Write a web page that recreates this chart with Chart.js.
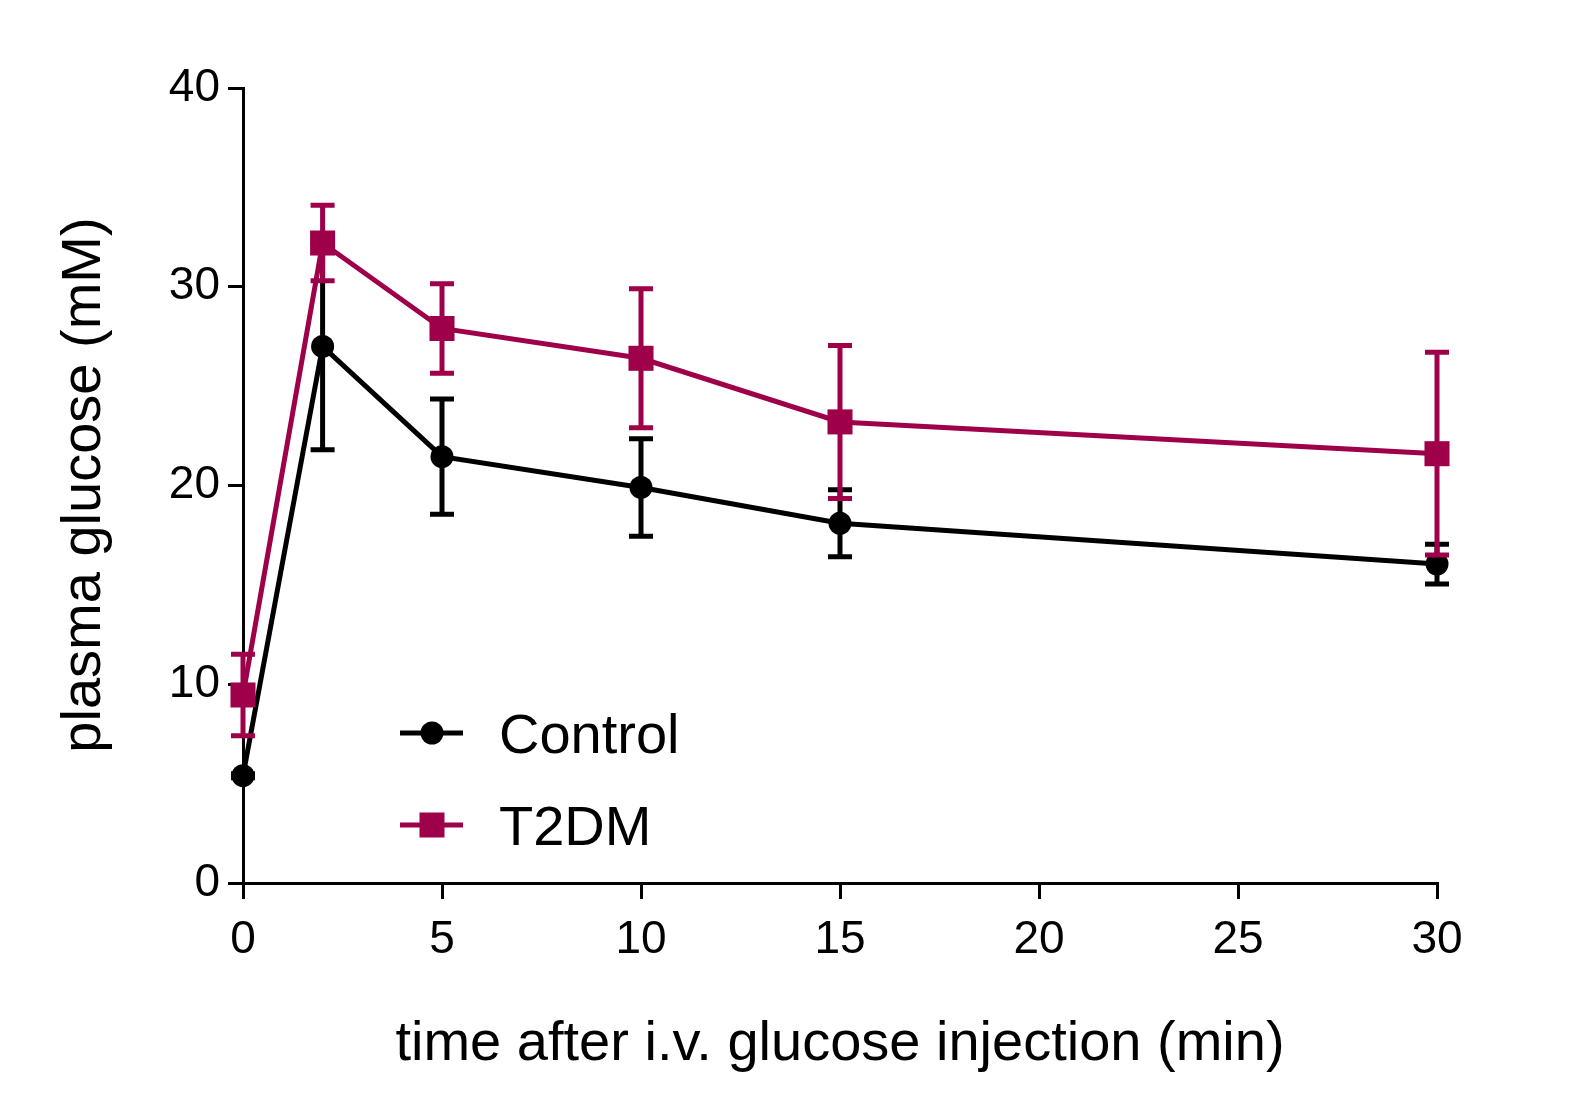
<!DOCTYPE html>
<html>
<head>
<meta charset="utf-8">
<script src="https://cdn.jsdelivr.net/npm/chart.js@4"></script>
<style>
  body { margin: 0; background: #fff; }
  canvas { display: block; }
</style>
</head>
<body>
<canvas id="myChart" width="1589" height="1116"></canvas>
<script>
// time points (min) and plasma glucose (mM), mean and error
const times = [0, 2, 5, 10, 15, 30];
const controlMean = [5.4, 27.0, 21.45, 19.9, 18.1, 16.05];
const controlErr = [0.1, 5.2, 2.9, 2.45, 1.68, 1.0];
const t2dmMean = [9.46, 32.2, 27.9, 26.4, 23.2, 21.6];
const t2dmErr = [2.05, 1.9, 2.25, 3.5, 3.85, 5.1];
const xTicks = [0, 5, 10, 15, 20, 25, 30];
const yTicks = [0, 10, 20, 30, 40];

const seriesNames = ["Control", "T2DM"];
const black = "#000000";
const plum = "#9e0049";
const font = "'Liberation Sans', Arial, sans-serif";

const errors = [controlErr, t2dmErr];

const errorBars = {
    id: "errorBars",
    afterDatasetDraw(chart, args) {
        const ctx = chart.ctx;
        const ds = chart.data.datasets[args.index];
        const err = errors[args.index];
        const xs = chart.scales.x;
        const ys = chart.scales.y;
        ctx.save();
        ctx.strokeStyle = ds.borderColor;
        ctx.lineWidth = 5;
        ds.data.forEach((p, i) => {
            const x = xs.getPixelForValue(p.x);
            const yTop = ys.getPixelForValue(p.y + err[i]);
            const yBot = ys.getPixelForValue(p.y - err[i]);
            ctx.beginPath();
            ctx.moveTo(x, yTop);
            ctx.lineTo(x, yBot);
            ctx.moveTo(x - 12, yTop);
            ctx.lineTo(x + 12, yTop);
            ctx.moveTo(x - 12, yBot);
            ctx.lineTo(x + 12, yBot);
            ctx.stroke();
        });
        ctx.restore();
    }
};

const labelsPlugin = {
    id: "labelsPlugin",
    afterDraw(chart) {
        const ctx = chart.ctx;
        const area = chart.chartArea;
        ctx.save();
        ctx.fillStyle = "#000";
        ctx.font = "56px " + font;
        ctx.textAlign = "center";
        ctx.textBaseline = "alphabetic";
        ctx.fillText("time after i.v. glucose injection (min)", (area.left + area.right) / 2, 1060);
        ctx.save();
        ctx.translate(100, 485);
        ctx.rotate(-Math.PI / 2);
        ctx.fillText("plasma glucose (mM)", 0, 0);
        ctx.restore();

        // legend: line with marker, then name
        const rows = [733, 825];
        chart.data.datasets.forEach((ds, i) => {
            const y = rows[i];
            ctx.strokeStyle = ds.borderColor;
            ctx.lineWidth = 5;
            ctx.beginPath();
            ctx.moveTo(400, y);
            ctx.lineTo(463, y);
            ctx.stroke();
            ctx.fillStyle = ds.borderColor;
            if (ds.pointStyle === "rect") {
                ctx.fillRect(432 - 12.5, y - 12.5, 25, 25);
            } else {
                ctx.beginPath();
                ctx.arc(432, y, 11.5, 0, Math.PI * 2);
                ctx.fill();
            }
            ctx.fillStyle = "#000";
            ctx.font = "56px " + font;
            ctx.textAlign = "left";
            ctx.fillText(seriesNames[i], 499, y + 20);
        });
        ctx.restore();
    }
};

const ctx = document.getElementById("myChart").getContext("2d");
const myChart = new Chart(ctx, {
    type: "line",
    data: {
        datasets: [{
            label: seriesNames[0],
            data: times.map((t, i) => ({ x: t, y: controlMean[i] })),
            borderColor: black,
            backgroundColor: black,
            borderWidth: 5,
            pointStyle: "circle",
            pointRadius: 11.5,
            pointBorderWidth: 0,
            clip: false,
            order: 1
        }, {
            label: seriesNames[1],
            data: times.map((t, i) => ({ x: t, y: t2dmMean[i] })),
            borderColor: plum,
            backgroundColor: plum,
            borderWidth: 5,
            pointStyle: "rect",
            pointRadius: 17.7,
            pointBorderWidth: 0,
            clip: false,
            order: 0
        }]
    },
    options: {
        responsive: false,
        devicePixelRatio: 1,
        animation: false,
        layout: { padding: { left: 0, top: 88, right: 152, bottom: 0 } },
        plugins: {
            legend: { display: false },
            tooltip: { enabled: false }
        },
        scales: {
            x: {
                type: "linear",
                min: 0,
                max: 30,
                afterFit: s => { s.height = 233; },
                afterBuildTicks: s => { s.ticks = xTicks.map(v => ({ value: v })); },
                border: { color: black, width: 3 },
                grid: { drawOnChartArea: false, color: black, lineWidth: 3, tickLength: 16 },
                ticks: { color: black, font: { family: font, size: 46 }, padding: 14, maxRotation: 0 }
            },
            y: {
                min: 0,
                max: 40,
                afterFit: s => { s.width = 243; },
                afterBuildTicks: s => { s.ticks = yTicks.map(v => ({ value: v })); },
                border: { color: black, width: 3 },
                grid: { drawOnChartArea: false, color: black, lineWidth: 3, tickLength: 15 },
                ticks: { color: black, font: { family: font, size: 46 }, padding: 8 }
            }
        }
    },
    plugins: [errorBars, labelsPlugin]
});
</script>
</body>
</html>
